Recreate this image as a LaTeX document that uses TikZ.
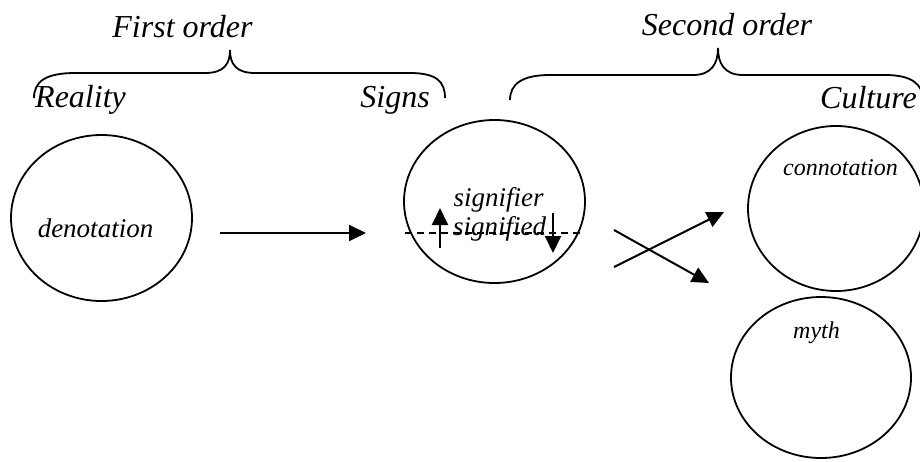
\documentclass[tikz,border=0pt]{standalone}
\usepackage{fontspec}
\setmainfont{Liberation Serif}
\usetikzlibrary{arrows.meta,shapes.geometric}
\tikzset{
  big/.style={font=\fontsize{32}{36}\selectfont\itshape, inner sep=0pt},
  mid/.style={font=\fontsize{27}{30}\selectfont\itshape, inner sep=0pt},
  small/.style={font=\fontsize{24}{28}\selectfont\itshape, inner sep=0pt},
  oval/.style={draw, ellipse, line width=1.8pt, inner sep=0pt},
  arr/.style={line width=2pt, -{Triangle[length=17pt,width=16pt]}},
  brace/.style={line width=1.8pt},
}
\begin{document}
\begin{tikzpicture}[x=1pt,y=-1pt]
\clip (0,0) rectangle (920,461);
\fill[white] (0,0) rectangle (920,461);
% ellipses
\node[oval, minimum width=181pt, minimum height=166pt] (den) at (101.5,218) {};
\node[oval, minimum width=181pt, minimum height=163pt] (sig) at (494.5,201.5) {};
\node[oval, minimum width=176pt, minimum height=165pt] (con) at (836,208.5) {};
\node[oval, minimum width=180pt, minimum height=161pt] (myth) at (821,377.5) {};
% texts
\node[big, anchor=base] (fo) at (182.5,37) {First order};
\node[big, anchor=base] (so) at (727,35) {Second order};
\node[big, anchor=base west] (re) at (35,107) {Reality};
\node[big, anchor=base east] (sg) at (430,107) {Signs};
\node[big, anchor=base east] (cu) at (917,108) {Culture};
\node[mid, anchor=base] (dt) at (95.5,237) {denotation};
\node[mid, anchor=base] (sr) at (498.5,206) {signifier};
\node[mid, anchor=base] (sd) at (499.5,235) {signified};
\node[small, anchor=base] (ct) at (840.5,175) {connotation};
\node[small, anchor=base] (mt) at (816.5,338) {myth};
% braces
\draw[brace] (34,98) .. controls (34,82) and (45,73) .. (75,73) -- (205,73)
  .. controls (224,73) and (230,64) .. (230,50)
  .. controls (230,64) and (236,73) .. (255,73) -- (410,73)
  .. controls (437,73) and (445,82) .. (445,98);
\draw[brace] (510,100) .. controls (510,84) and (522,75) .. (550,75) -- (693,75)
  .. controls (712,75) and (718,63) .. (718,48)
  .. controls (718,63) and (724,75) .. (743,75) -- (885,75)
  .. controls (912,75) and (922,84) .. (924,100);
% arrows
\coordinate (a1s) at (220,233);
\coordinate (a1e) at (366,233);
\draw[arr] (a1s) -- (a1e);
\coordinate (dl) at (405,232.7);
\coordinate (dr) at (582,232.7);
\draw[line width=1.6pt, dash pattern=on 7pt off 5pt] (dl) -- (dr);
\coordinate (u1) at (440,248);
\coordinate (u2) at (440,208);
\draw[arr] (u1) -- (u2);
\coordinate (d1) at (553,213);
\coordinate (d2) at (553,253);
\draw[arr] (d1) -- (d2);
\coordinate (x1s) at (614,267);
\coordinate (x1e) at (724,212);
\draw[arr] (x1s) -- (x1e);
\coordinate (x2s) at (614,230);
\coordinate (x2e) at (709,283);
\draw[arr] (x2s) -- (x2e);
\end{tikzpicture}
\end{document}
